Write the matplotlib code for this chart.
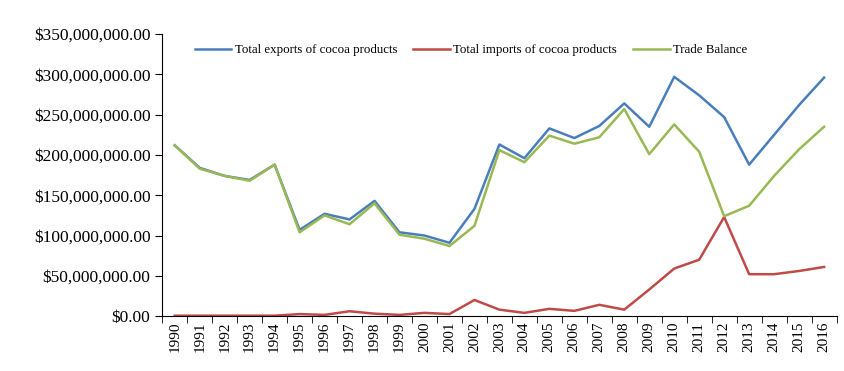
import numpy as np
import matplotlib
matplotlib.use('Agg')
import matplotlib.pyplot as plt
from matplotlib.ticker import FuncFormatter, FixedLocator

plt.rcParams['font.family'] = ['Liberation Serif', 'DejaVu Serif']

years = list(range(1990, 2017))
exports = [212, 184, 174, 169, 188, 107, 127, 120, 143, 104, 100, 91, 133,
           213, 196, 233, 221, 236, 264, 235, 297, 274, 247, 188, 225, 262, 296]
imports = [0.5, 0.5, 0.5, 0.5, 0.5, 2.5, 1.5, 6, 3, 1.5, 4, 2.5, 20,
           8, 4, 9, 6.5, 14, 8, 33, 59, 70, 123, 52, 52, 56, 61]
balance = [212, 183, 174, 168, 188, 104, 125, 114, 140, 101, 96, 87, 112,
           206, 191, 224, 214, 222, 257, 201, 238, 204, 124, 137, 174, 207, 235]

exports = np.array(exports) * 1e6
imports = np.array(imports) * 1e6
balance = np.array(balance) * 1e6

fig = plt.figure(figsize=(8.45, 3.71), dpi=100)
ax = fig.add_axes([0.192, 0.148, 0.798, 0.76])

x = np.arange(len(years))
ax.plot(x, exports, color='#4a7ebb', lw=1.8, label='Total exports of cocoa products')
ax.plot(x, imports, color='#be4b48', lw=1.8, label='Total imports of cocoa products')
ax.plot(x, balance, color='#98b954', lw=1.8, label='Trade Balance')

ax.set_xlim(-0.5, len(years) - 0.5)
ax.set_ylim(0, 350e6)
ax.set_yticks(np.arange(0, 350e6 + 1, 50e6))
ax.yaxis.set_major_formatter(FuncFormatter(lambda v, p: f'${v:,.2f}'))

# year labels centred on categories, tick marks between them
ax.set_xticks(x)
ax.set_xticklabels([str(y) for y in years], rotation=90)
ax.xaxis.set_minor_locator(FixedLocator(np.arange(-0.5, len(years), 1)))
ax.tick_params(axis='x', which='major', length=0, pad=4, labelsize=11)
ax.tick_params(axis='x', which='minor', length=5, direction='out')
ax.tick_params(axis='y', length=5, direction='out', labelsize=12.5)

for s in ('top', 'right'):
    ax.spines[s].set_visible(False)

ax.legend(loc='upper left', bbox_to_anchor=(0.031, 1.005), ncol=3, frameon=False,
          fontsize=9.3, handlelength=2.8, columnspacing=1.25, handletextpad=0.3)

fig.savefig('out.png', dpi=100)
